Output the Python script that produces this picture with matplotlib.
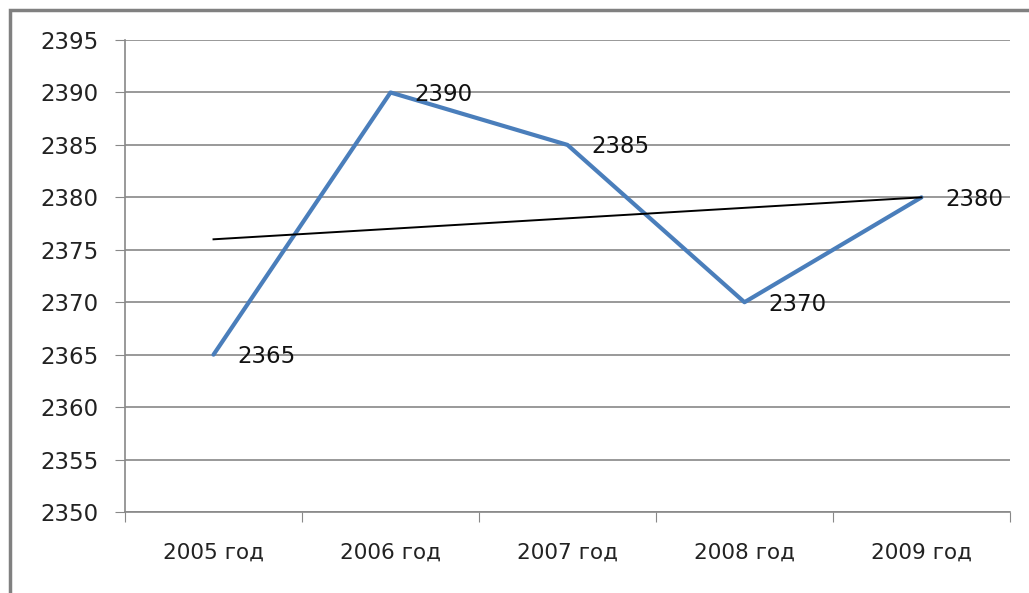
import matplotlib.pyplot as plt
from matplotlib.patches import Rectangle

# data
years = ['2005 год', '2006 год', '2007 год', '2008 год', '2009 год']
values = [2365, 2390, 2385, 2370, 2380]
trendEnds = [2376, 2380]
yTicks = [2350, 2355, 2360, 2365, 2370, 2375, 2380, 2385, 2390, 2395]

fig = plt.figure(figsize=(10.29, 5.93), dpi=100)
ax = fig.add_axes([0.1215, 0.1366, 0.86, 0.7959])

x = list(range(len(years)))
ax.plot(x, values, color='#4A7EBB', lw=3, solid_capstyle='round', zorder=3)
ax.plot([x[0], x[-1]], trendEnds, color='black', lw=1.4, zorder=4)

for xi, v in zip(x, values):
    ax.annotate(str(v), (xi, v), xytext=(17, -1.5), textcoords='offset points',
                ha='left', va='center', fontsize=16.5, color='#111111')

ax.set_xlim(-0.5, len(years) - 0.5)
ax.set_ylim(2350, 2395)
ax.set_yticks(yTicks)
ax.set_yticklabels([str(t) for t in yTicks], fontsize=16.5, color='#222222')
ax.yaxis.grid(True, color='#888888', lw=1.2)
ax.set_axisbelow(True)

# category ticks sit between categories, labels at the centres
ax.set_xticks([i - 0.5 for i in range(len(years) + 1)])
ax.set_xticklabels([])
ax.set_xticks(x, minor=True)
ax.set_xticklabels(years, minor=True, fontsize=15.5, color='#222222')
ax.tick_params(axis='x', which='minor', length=0, pad=22)
ax.tick_params(axis='x', which='major', length=7, color='#888888', direction='out')
ax.tick_params(axis='y', length=7, color='#888888', pad=12)

for s in ['top', 'right']:
    ax.spines[s].set_visible(False)
ax.spines['left'].set_color('#888888')
ax.spines['bottom'].set_color('#888888')
ax.spines['left'].set_linewidth(1.2)
ax.spines['bottom'].set_linewidth(1.2)

# outer chart border
fig.patches.append(Rectangle((10 / 1029, -0.1), 1.2, 1 - 10 / 593 + 0.1,
                             transform=fig.transFigure, fill=False,
                             edgecolor='#808080', lw=2.5))

fig.savefig('out.png', dpi=100)
